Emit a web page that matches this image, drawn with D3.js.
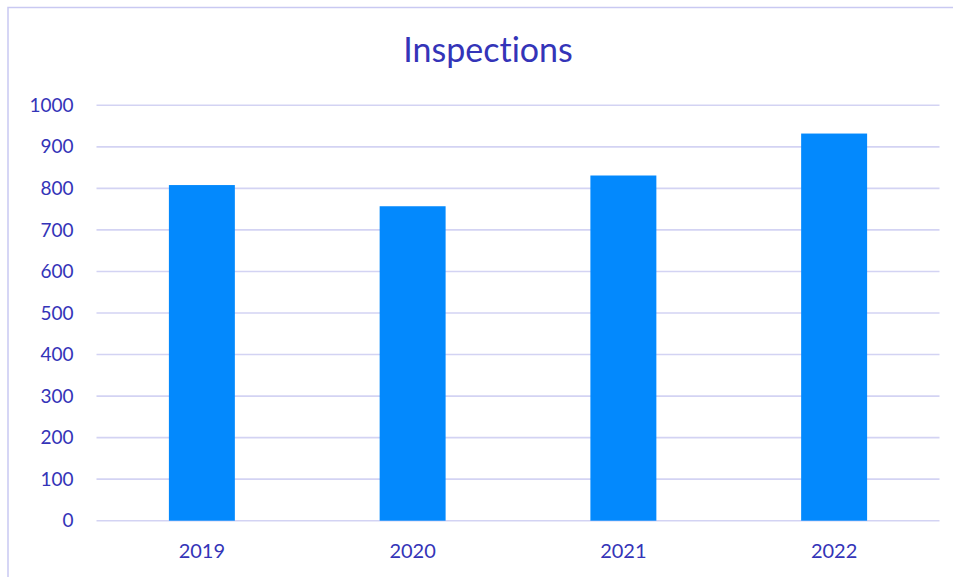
<!DOCTYPE html>
<html>
<head>
<meta charset="utf-8">
<script src="https://cdn.jsdelivr.net/npm/d3@7"></script>
<style>
  html, body { margin: 0; padding: 0; background: #fff; }
  svg { display: block; }
  text { font-variant-ligatures: none; font-feature-settings: "liga" 0; }
</style>
</head>
<body>
<svg id="chart" width="953" height="577"></svg>
<script>
// Annual inspection counts
const years = ["2019", "2020", "2021", "2022"];
const inspections = [808, 757, 831, 932];
const yTicks = [0, 100, 200, 300, 400, 500, 600, 700, 800, 900, 1000];
const chartTitle = "Inspections";

const W = 953, H = 577;
const margin = { top: 105.3, right: 13.5, bottom: 56.3, left: 96.5 };
const textColor = "#3434B8";
const gridColor = "#D3D3F3";
const barColor = "#0389FD";
const font = "Lato, 'Open Sans', sans-serif";

const svg = d3.select("#chart");

// outer frame of the chart object
svg.append("rect")
  .attr("x", 8).attr("y", 7.5)
  .attr("width", W + 20).attr("height", H + 20)
  .attr("fill", "#fff")
  .attr("stroke", "#C9C9F2")
  .attr("stroke-width", 1.5);

const x = d3.scaleBand()
  .domain(years)
  .range([margin.left, W - margin.right])
  .paddingInner(0.687)
  .paddingOuter(0.3435);

const y = d3.scaleLinear()
  .domain([0, 1000])
  .range([H - margin.bottom, margin.top]);

// horizontal gridlines
svg.append("g")
  .selectAll("line")
  .data(yTicks)
  .join("line")
  .attr("x1", margin.left)
  .attr("x2", W - margin.right)
  .attr("y1", d => y(d))
  .attr("y2", d => y(d))
  .attr("stroke", gridColor)
  .attr("stroke-width", 1.6);

// bars
svg.append("g")
  .selectAll("rect")
  .data(years)
  .join("rect")
  .attr("x", d => x(d))
  .attr("width", x.bandwidth())
  .attr("y", (d, i) => y(inspections[i]))
  .attr("height", (d, i) => y(0) - y(inspections[i]))
  .attr("fill", barColor);

// y axis labels
const yAxis = d3.axisLeft(y)
  .tickValues(yTicks)
  .tickFormat(d3.format("d"))
  .tickSize(0)
  .tickPadding(23);
const gy = svg.append("g")
  .attr("transform", `translate(${margin.left},0)`)
  .call(yAxis);
gy.select(".domain").remove();
gy.selectAll("text")
  .attr("fill", textColor)
  .style("font-family", font)
  .style("font-size", "19px");

// x axis labels
const xAxis = d3.axisBottom(x).tickSize(0).tickPadding(23);
const gx = svg.append("g")
  .attr("transform", `translate(0,${y(0)})`)
  .call(xAxis);
gx.select(".domain").remove();
gx.selectAll("text")
  .attr("fill", textColor)
  .style("font-family", font)
  .style("font-size", "20px");

// title
svg.append("text")
  .attr("x", 488)
  .attr("y", 62)
  .attr("text-anchor", "middle")
  .attr("fill", textColor)
  .style("font-family", font)
  .style("font-size", "34px")
  .text(chartTitle);
</script>
</body>
</html>
